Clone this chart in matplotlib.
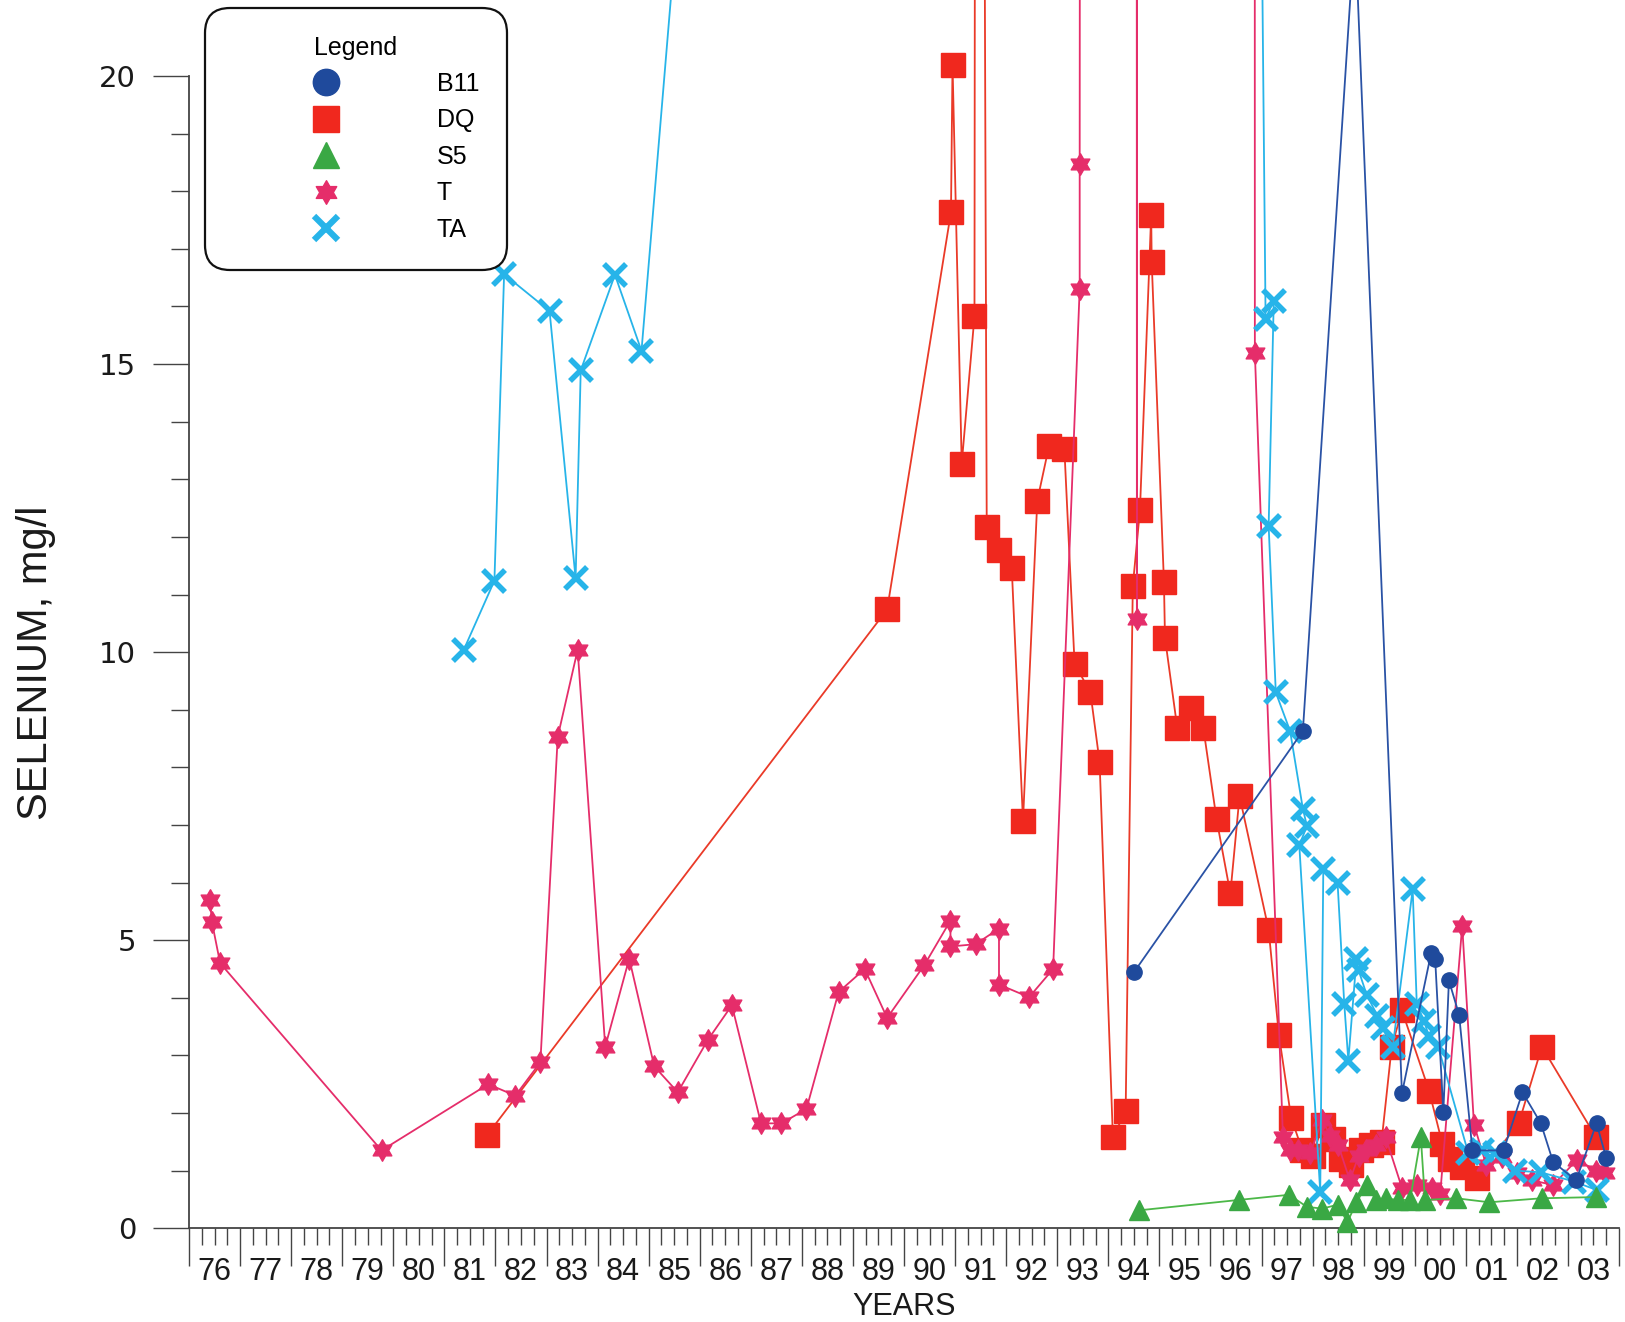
import matplotlib
matplotlib.use("Agg")
import matplotlib.pyplot as plt
from matplotlib.lines import Line2D
from matplotlib.path import Path
from matplotlib.ticker import FixedLocator, FuncFormatter
from matplotlib import font_manager
import numpy as np

# ---------------- data (years, selenium mg/l) ----------------
b11_year = [1994.50, 1997.81, 1998.83, 1999.75, 2000.32, 2000.40, 2000.56, 2000.67,
            2000.87, 2001.13, 2001.74, 2002.11, 2002.47, 2002.71, 2003.16, 2003.56, 2003.75]
b11_val = [4.44, 8.63, 22.6, 2.34, 4.77, 4.68, 2.01, 4.30,
           3.70, 1.35, 1.35, 2.36, 1.82, 1.15, 0.83, 1.82, 1.22]

dq_year = [1981.84, 1989.67, 1990.92, 1990.95, 1991.13, 1991.38, 1991.43, 1991.62,
           1991.86, 1992.11, 1992.33, 1992.61, 1992.84, 1993.14, 1993.34, 1993.65,
           1993.83, 1994.09, 1994.34, 1994.48, 1994.62, 1994.84, 1994.85, 1995.09,
           1995.11, 1995.35, 1995.61, 1995.86, 1996.12, 1996.39, 1996.57, 1997.14,
           1997.34, 1997.58, 1997.80, 1998.00, 1998.20, 1998.40, 1998.55, 1998.75,
           1998.95, 1999.15, 1999.35, 1999.55, 1999.75, 2000.28, 2000.54, 2000.70,
           2000.93, 2001.21, 2002.04, 2002.49, 2003.55]
dq_val = [1.62, 10.74, 17.64, 20.20, 13.27, 15.83, 60.0, 12.18,
          11.78, 11.46, 7.07, 12.63, 13.58, 13.53, 9.80, 9.30,
          8.09, 1.58, 2.03, 11.15, 12.46, 17.59, 16.78, 11.21,
          10.25, 8.69, 9.03, 8.69, 7.10, 5.81, 7.50, 5.18,
          3.36, 1.92, 1.35, 1.25, 1.80, 1.55, 1.20, 1.10,
          1.35, 1.45, 1.50, 3.15, 3.78, 2.39, 1.47, 1.20,
          1.06, 0.88, 1.83, 3.15, 1.58]

s5_year = [1994.60, 1996.55, 1997.54, 1997.89, 1998.19, 1998.50, 1998.68, 1998.86,
           1999.06, 1999.24, 1999.43, 1999.67, 1999.91, 2000.12, 2000.20, 2000.81,
           2001.46, 2002.49, 2003.55]
s5_val = [0.31, 0.49, 0.58, 0.37, 0.34, 0.41, 0.10, 0.45,
          0.75, 0.49, 0.52, 0.49, 0.49, 1.58, 0.49, 0.52,
          0.45, 0.52, 0.54]

t_year = [1976.41, 1976.45, 1976.61, 1979.77, 1981.86, 1982.39, 1982.88, 1983.22,
          1983.61, 1984.15, 1984.62, 1985.11, 1985.57, 1986.16, 1986.63, 1987.20,
          1987.60, 1988.09, 1988.72, 1989.23, 1989.67, 1990.40, 1990.91, 1990.91,
          1991.40, 1991.86, 1991.86, 1992.45, 1992.92, 1993.44, 1993.44, 1993.47,
          1994.55, 1994.56, 1994.57, 1996.86, 1996.87, 1997.42, 1997.55, 1997.72,
          1997.95, 1998.19, 1998.35, 1998.50, 1998.73, 1998.90, 1999.05, 1999.25,
          1999.43, 1999.75, 2000.05, 2000.34, 2000.50, 2000.93, 2001.16, 2001.40,
          2001.70, 2002.00, 2002.30, 2002.71, 2003.18, 2003.55, 2003.72]
t_val = [5.70, 5.31, 4.60, 1.35, 2.50, 2.30, 2.88, 8.53,
         10.04, 3.15, 4.68, 2.81, 2.36, 3.27, 3.87, 1.82,
         1.82, 2.07, 4.10, 4.50, 3.65, 4.57, 5.34, 4.89,
         4.93, 5.20, 4.23, 4.01, 4.50, 16.31, 18.47, 60.0,
         60.0, 10.57, 60.0, 60.0, 15.20, 1.58, 1.35, 1.35,
         1.30, 1.87, 1.60, 1.45, 0.83, 1.25, 1.35, 1.45,
         1.58, 0.70, 0.75, 0.70, 0.60, 5.25, 1.80, 1.10,
         1.24, 0.95, 0.83, 0.75, 1.19, 1.00, 0.95]

ta_year = [1981.38, 1981.98, 1982.17, 1983.06, 1983.57, 1983.67, 1984.34, 1984.86,
           1985.60, 1997.00, 1997.08, 1997.24, 1997.14, 1997.28, 1997.56, 1997.81,
           1997.89, 1997.74, 1998.15, 1998.21, 1998.49, 1998.62, 1998.70, 1998.86,
           1998.90, 1999.06, 1999.27, 1999.37, 1999.57, 1999.96, 2000.04, 2000.18,
           2000.28, 2000.46, 2001.05, 2001.31, 2001.58, 2001.96, 2002.47, 2003.12,
           2003.57]
ta_val = [10.04, 11.24, 16.56, 15.92, 11.28, 14.89, 16.55, 15.23,
          23.1, 23.1, 15.79, 16.10, 12.19, 9.30, 8.63, 7.28,
          6.98, 6.65, 0.63, 6.24, 5.99, 3.90, 2.91, 4.68,
          4.48, 4.05, 3.69, 3.47, 3.15, 5.88, 3.90, 3.60,
          3.33, 3.15, 1.30, 1.35, 1.30, 1.00, 0.97, 0.81,
          0.66]

series_names = ["B11", "DQ", "S5", "T", "TA"]
first_year, last_year = 1976, 2004

# ---------------- fonts ----------------
_avail = {f.name for f in font_manager.fontManager.ttflist}
def pick(*names):
    for n in names:
        if n in _avail:
            return n
    return "DejaVu Sans"
NARROW = pick("Liberation Sans Narrow", "DejaVu Sans Condensed", "Liberation Sans")
ARIAL = pick("Liberation Sans", "Arimo", "DejaVu Sans")
plt.rcParams["font.family"] = ["DejaVu Sans"]

# ---------------- styles ----------------
B11C, DQC, S5C, TC, TAC = "#1f4a9c", "#f0281e", "#3aa844", "#e52d6a", "#27b4e9"
ang = np.deg2rad(90 + 30 * np.arange(12))
rad = np.where(np.arange(12) % 2 == 0, 1.0, 0.577)
hexa = Path(np.column_stack([rad * np.cos(ang), rad * np.sin(ang)]).tolist() + [[0, 1]],
            closed=True)

fig = plt.figure(figsize=(16.25, 13.22), dpi=100)
fig.patch.set_facecolor("white")
L, R, B = 189 / 1625, 1619 / 1625, (1322 - 1228.2) / 1322
ax = fig.add_axes([L, B, R - L, 1 - B])
ax.set_xlim(first_year, last_year)
ax.set_ylim(0, 21.32)

lw = 1.3
ax.plot(dq_year, dq_val, color="#ea3a28", lw=lw, marker="s", ms=17, mfc=DQC, mec=DQC,
        clip_on=False, zorder=2)
ax.plot(t_year, t_val, color=TC, lw=lw, marker=hexa, ms=15.5, mfc=TC, mec=TC,
        clip_on=False, zorder=3)
ax.plot(ta_year, ta_val, color=TAC, lw=lw, marker="x", ms=16.5, mew=4, mec=TAC,
        clip_on=False, zorder=4)
ax.plot(b11_year, b11_val, color="#2a52a5", lw=lw, marker="o", ms=11, mfc=B11C, mec=B11C,
        clip_on=False, zorder=5)
ax.plot(s5_year, s5_val, color="#4cb848", lw=lw, marker="^", ms=14.5, mfc=S5C, mec=S5C,
        clip_on=False, zorder=6)

# ---------------- axes styling ----------------
for s in ("top", "right"):
    ax.spines[s].set_visible(False)
ax.spines["left"].set_bounds(0, 20)
for s in ("left", "bottom"):
    ax.spines[s].set_color("#444444")
    ax.spines[s].set_linewidth(1.3)

ax.yaxis.set_major_locator(FixedLocator([0, 5, 10, 15, 20]))
ax.yaxis.set_minor_locator(FixedLocator([v for v in range(1, 20) if v % 5]))
ax.tick_params(axis="y", which="major", length=26, width=1.0, pad=12, labelsize=21,
               color="#444444", labelcolor="#1a1a1a", labelfontfamily="DejaVu Sans")
ax.tick_params(axis="y", which="minor", length=13, width=1.0, color="#444444")

years = list(range(first_year, last_year + 1))
ax.xaxis.set_major_locator(FixedLocator(years))
ax.xaxis.set_minor_locator(FixedLocator([y + q for y in years[:-1] for q in (0.25, 0.5, 0.75)]))
ax.xaxis.set_major_formatter(FuncFormatter(lambda x, p: ""))
ax.xaxis.set_minor_formatter(
    FuncFormatter(lambda x, p: f"{int(x) % 100:02d}" if abs(x % 1 - 0.5) < 1e-6 else ""))
ax.tick_params(axis="x", which="major", length=27, width=1.0, color="#444444")
ax.tick_params(axis="x", which="minor", length=12, width=1.0, pad=8.5, labelsize=22,
               color="#444444", labelcolor="#1a1a1a", labelfontfamily=NARROW)

ax.set_xlabel("YEARS", fontsize=22, family=NARROW, color="#1a1a1a", va="top")
ax.xaxis.set_label_coords(0.5, -0.052)
ax.set_ylabel("SELENIUM, mg/l", fontsize=30, family=NARROW, color="#1a1a1a", va="center")
ax.yaxis.set_label_coords(-0.107, 0.46)

# ---------------- legend ----------------
handles = [
    Line2D([], [], ls="none", marker="o", ms=19, mfc=B11C, mec=B11C),
    Line2D([], [], ls="none", marker="s", ms=19, mfc=DQC, mec=DQC),
    Line2D([], [], ls="none", marker="^", ms=19, mfc=S5C, mec=S5C),
    Line2D([], [], ls="none", marker=hexa, ms=17, mfc=TC, mec=TC),
    Line2D([], [], ls="none", marker="x", ms=17, mew=4.5, mec=TAC),
]
leg = ax.legend(handles, series_names, title="Legend", loc="upper left",
                bbox_to_anchor=(205 / 1625, 1 - 8 / 1322), bbox_transform=fig.transFigure,
                prop={"family": ARIAL, "size": 18},
                title_fontproperties={"family": ARIAL, "size": 18},
                borderaxespad=0, borderpad=1.1, handlelength=7.45, handletextpad=0.72,
                labelspacing=0.5, fancybox=True, framealpha=1, edgecolor="#111111")
leg.get_frame().set_boxstyle("round,pad=0,rounding_size=1.0")
leg.get_frame().set_linewidth(1.6)
leg.set_zorder(10)

fig.savefig("out.png", dpi=100, facecolor="white")
